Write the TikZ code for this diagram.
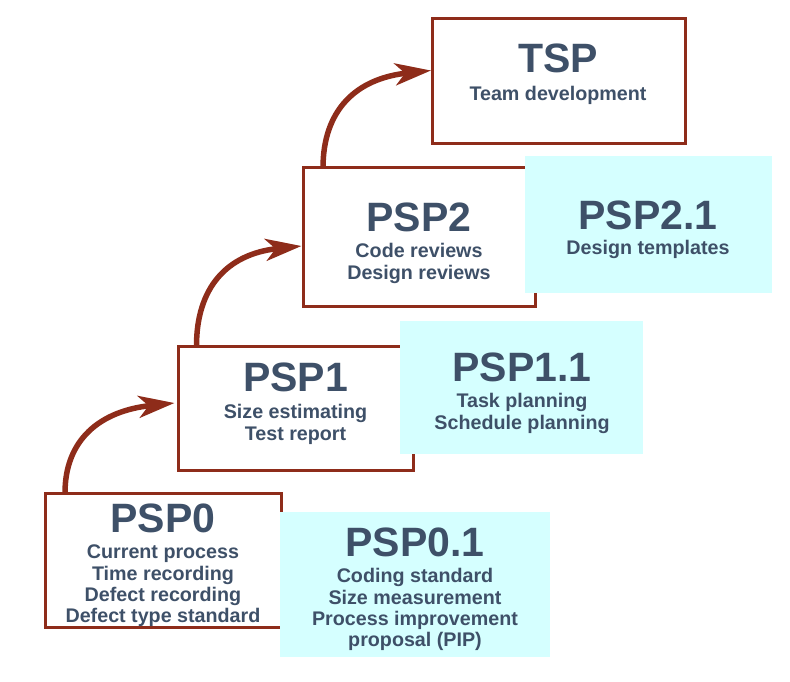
\documentclass[tikz,border=0pt]{standalone}
\usepackage{fontspec}
\setmainfont{Liberation Sans}
\usetikzlibrary{arrows.meta,calc}
\definecolor{boxred}{RGB}{142,44,26}
\definecolor{txt}{RGB}{62,80,104}
\definecolor{cyanfill}{RGB}{213,255,255}
\tikzset{
  stage/.style={draw=boxred, line width=3pt, fill=white, rectangle, inner sep=0pt, outer sep=0pt},
  subbox/.style={fill=cyanfill, rectangle, inner sep=0pt, outer sep=0pt},
  ttl/.style={text=txt, font=\bfseries\fontsize{41}{41}\selectfont, inner sep=0pt, anchor=base},
  body/.style={text=txt, font=\bfseries\fontsize{19.7}{21.3}\selectfont, inner sep=0pt, align=center, anchor=north},
  uparrow/.style={draw=boxred, line width=5.5pt, -{Stealth[length=36pt,width=22pt,inset=10pt]}},
}
\begin{document}
\begin{tikzpicture}[x=1pt,y=-1pt]
\useasboundingbox (0,0) rectangle (790,682);
% white stage boxes
\node[stage, minimum width=236pt, minimum height=134pt] (psp0) at (163,560) {};
\node[stage, minimum width=235pt, minimum height=124pt] (psp1) at (296,408) {};
\node[stage, minimum width=231.5pt, minimum height=138pt] (psp2) at (419.25,237) {};
\node[stage, minimum width=253pt, minimum height=125pt] (tsp) at (558.5,81) {};
% arrows
\draw[uparrow] ($(psp0.north west)+(20,0)$) .. controls +(0,-53) and +(-75,8) .. ($(psp1.north west)+(-4,57)$);
\draw[uparrow] ($(psp1.north west)+(18,0)$) .. controls +(0,-58) and +(-75,8) .. ($(psp2.north west)+(-2,78)$);
\draw[uparrow] ($(psp2.north west)+(19.5,0)$) .. controls +(0,-58) and +(-75,8) .. ($(tsp.north west)+(-1,52)$);
% cyan boxes
\node[subbox, minimum width=270pt, minimum height=145pt] (psp01) at (415,584.5) {};
\node[subbox, minimum width=243pt, minimum height=133pt] (psp11) at (521.5,387.5) {};
\node[subbox, minimum width=247pt, minimum height=137pt] (psp21) at (648.5,224.5) {};
% texts
\node[ttl] (t0) at (163,532) {PSP0};
\node[body] (b0) at (163,544.8) {Current process\\Time recording\\Defect recording\\Defect type standard};
\node[ttl] (t01) at (415,556) {PSP0.1};
\node[body] (b01) at (415,568.3) {Coding standard\\Size measurement\\Process improvement\\proposal (PIP)};
\node[ttl] (t1) at (295.5,391) {PSP1};
\node[body] (b1) at (295.5,404.3) {Size estimating\\Test report};
\node[ttl] (t11) at (522,381) {PSP1.1};
\node[body] (b11) at (522,393.3) {Task planning\\Schedule planning};
\node[ttl] (t2) at (419,231) {PSP2};
\node[body] (b2) at (419,243.3) {Code reviews\\Design reviews};
\node[ttl] (t21) at (648,229) {PSP2.1};
\node[body] (b21) at (648,240.3) {Design templates};
\node[ttl] (tt) at (558,73) {TSP};
\node[body] (bt) at (558,86.3) {Team development};
\end{tikzpicture}
\end{document}
